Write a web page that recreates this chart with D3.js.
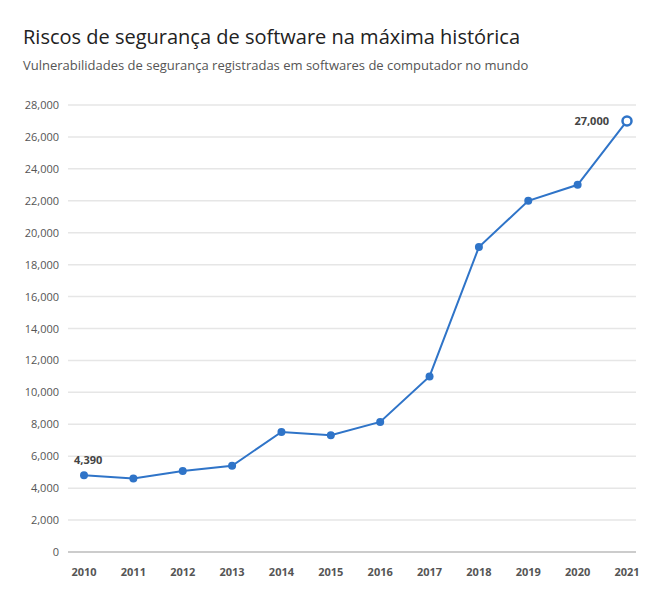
<!DOCTYPE html>
<html><head><meta charset="utf-8">
<script src="https://cdn.jsdelivr.net/npm/d3@7"></script>
<style>body{margin:0;background:#fff;font-family:"Open Sans","Noto Sans",sans-serif;}</style>
</head><body><svg id="c" width="668" height="607"></svg>
<script>
const years = [2010,2011,2012,2013,2014,2015,2016,2017,2018,2019,2020,2021];
const values = [4800,4600,5080,5400,7520,7320,8150,11000,19100,22000,23000,27000];
const pointLabels = {0:"4,390", 11:"27,000"};
const yTicks = d3.range(0,28001,2000);

const svg = d3.select("#c");
svg.append("text").attr("x",23).attr("y",44).attr("font-size",20).attr("fill","#222").text("Riscos de segurança de software na máxima histórica");
svg.append("text").attr("x",23).attr("y",70).attr("font-size",13).attr("fill","#555").text("Vulnerabilidades de segurança registradas em softwares de computador no mundo");

const x = d3.scalePoint().domain(years).range([84,627]);
const y = d3.scaleLinear().domain([0,28000]).range([552,105]);

const g = svg.append("g");
g.selectAll("line.grid").data(yTicks).join("line")
  .attr("x1",68).attr("x2",636).attr("y1",d=>y(d)).attr("y2",d=>y(d))
  .attr("stroke",d=>d===0?"#ccc":"#e6e6e6").attr("stroke-width",d=>d===0?2:1.5);
g.selectAll("text.yt").data(yTicks).join("text")
  .attr("x",59).attr("y",d=>y(d)+4).attr("text-anchor","end").attr("font-size",11).attr("fill","#555")
  .text(d3.format(",")); 
g.selectAll("text.xt").data(years).join("text")
  .attr("x",d=>x(d)).attr("y",576).attr("text-anchor","middle").attr("font-size",11).attr("font-weight","bold").attr("fill","#555")
  .text(d=>d);

const line = d3.line().x((d,i)=>x(years[i])).y(d=>y(d));
g.append("path").datum(values).attr("d",line).attr("fill","none").attr("stroke","#2f74c8").attr("stroke-width",2);
g.selectAll("circle").data(values).join("circle")
  .attr("cx",(d,i)=>x(years[i])).attr("cy",d=>y(d))
  .attr("r",(d,i)=>i===11?4.5:4)
  .attr("fill",(d,i)=>i===11?"#fff":"#2f74c8")
  .attr("stroke","#2f74c8").attr("stroke-width",(d,i)=>i===11?2.5:0);
Object.entries(pointLabels).forEach(([i,t])=>{
  i=+i;
  const last = i===11;
  g.append("text").attr("x",last?x(years[i])-18:x(years[i])-10)
   .attr("y",last?y(values[i])+4:y(values[i])-11)
   .attr("text-anchor",last?"end":"start").attr("font-size",11).attr("font-weight","bold").attr("fill","#444").text(t);
});
</script></body></html>
